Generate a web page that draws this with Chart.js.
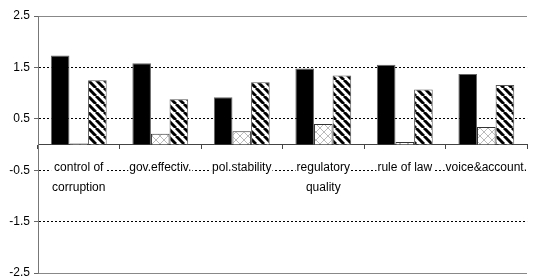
<!DOCTYPE html>
<html><head><meta charset="utf-8">
<script src="https://cdn.jsdelivr.net/npm/chart.js@4/dist/chart.umd.min.js"></script>
<style>html,body{margin:0;padding:0;background:#fff}#w{width:536px;height:279px}</style>
</head><body><div id="w"><canvas id="c" width="536" height="279"></canvas></div>
<script>
const categories = [["control of","corruption"], "gov.effectiv.", "pol.stability", ["regulatory","quality"], "rule of law", "voice&account."];
const series1 = [1.73, 1.58, 0.92, 1.48, 1.55, 1.37];
const series2 = [0.02, 0.21, 0.26, 0.40, 0.05, 0.34];
const series3 = [1.25, 0.88, 1.21, 1.34, 1.07, 1.16];
const yTickLabels = ["-2.5", "-1.5", "-0.5", "0.5", "1.5", "2.5"];

function makePattern(kind){
  const s = 8, cv = document.createElement('canvas'); cv.width = s; cv.height = s;
  const g = cv.getContext('2d');
  g.fillStyle = '#fff'; g.fillRect(0,0,s,s);
  if (kind === 'stripe'){
    g.strokeStyle = '#000'; g.lineWidth = 3;
    for (let k=-1;k<=1;k++){ g.beginPath(); g.moveTo(k*s, 0); g.lineTo(k*s+s, s); g.stroke(); }
  } else {
    g.strokeStyle = '#bbb'; g.lineWidth = 1;
    g.beginPath(); g.moveTo(0,0); g.lineTo(s,s); g.stroke();
    g.beginPath(); g.moveTo(s,0); g.lineTo(0,s); g.stroke();
  }
  return g.createPattern(cv, 'repeat');
}

// white gap behind category labels (drawn after bars, before the labels)
const labelGap = {
  id: 'labelGap',
  afterDatasetsDraw(chart){
    const sc = chart.scales.x, ctx = chart.ctx;
    const items = sc.getLabelItems(chart.chartArea);
    ctx.save();
    ctx.fillStyle = '#fff';
    items.forEach(it => {
      const lines = Array.isArray(it.label) ? it.label : [it.label];
      ctx.font = it.font.string;
      const w = Math.max(...lines.map(l => ctx.measureText(l).width));
      const lh = it.font.lineHeight;
      const [tx, ty] = it.options.translation;
      const top = ty + it.textOffset - 7;
      ctx.fillRect(tx - w/2 - 1, top, w + 2, (lines.length - 1) * lh + 14);
    });
    ctx.restore();
  }
};

const noPad = s => { s.paddingTop = 0; s.paddingBottom = 0; };
const FONT = {family: "'Liberation Sans', Arial, sans-serif", size: 12};
new Chart(document.getElementById('c'), {
  type: 'bar',
  data: {
    labels: categories,
    datasets: [
      {data: series1, backgroundColor: '#000', borderColor: '#666', borderWidth: 1},
      {data: series2, backgroundColor: makePattern('cross'), borderColor: '#333', borderWidth: 1},
      {data: series3, backgroundColor: makePattern('stripe'), borderColor: '#555', borderWidth: 1}
    ]
  },
  plugins: [labelGap],
  options: {
    responsive: false, animation: false,
    layout: {padding: {top: 16, bottom: 6, left: 0, right: 0}},
    plugins: {legend: {display: false}, tooltip: {enabled: false}},
    datasets: {bar: {categoryPercentage: 0.685, barPercentage: 1}},
    scales: {
      x: {
        position: {y: 0},
        afterFit: s => { s.height = 0; noPad(s); },
        grid: {drawOnChartArea: false, tickLength: 4, color: '#444', offset: true},
        border: {color: '#444', width: 1},
        ticks: {font: {family: FONT.family, size: 12, lineHeight: '20px'}, color: '#000',
                maxRotation: 0, autoSkip: false, padding: 9, z: 1}
      },
      y: {
        min: -2.5, max: 2.5,
        afterFit: s => { s.width = 38; noPad(s); },
        grid: {color: ctx => (ctx.tick && Math.abs(Math.abs(ctx.tick.value) - 2.5) < 1e-6) ? 'rgba(0,0,0,0)' : '#000',
               tickColor: '#666', tickLength: 4, z: -1},
        border: {color: '#777', width: 1, dash: [2, 2]},
        ticks: {stepSize: 1, font: {family: FONT.family, size: 12, lineHeight: 1}, color: '#000', padding: 4,
                callback: (v, i) => yTickLabels[i]}
      },
      y2: {
        position: 'right', min: -2.5, max: 2.5,
        afterFit: s => { s.width = 0; noPad(s); },
        grid: {color: '#888', drawTicks: false, z: -1},
        border: {display: false},
        ticks: {display: false, stepSize: 5}
      }
    }
  }
});
</script>
</body></html>
